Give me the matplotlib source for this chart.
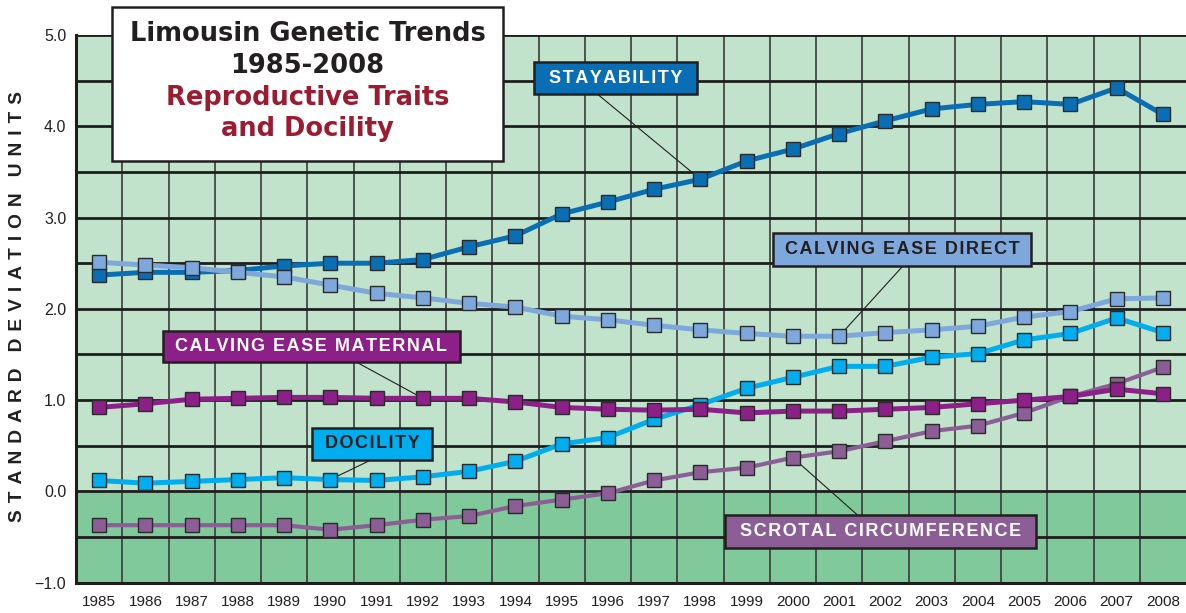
import matplotlib
matplotlib.use('Agg')

import matplotlib.pyplot as plt
from matplotlib import font_manager
from matplotlib.patches import Rectangle


#------------------------------------------------------------------------------
# data

years = list(range(1985, 2009))

stayability = [2.37, 2.40, 2.40, 2.42, 2.47, 2.50, 2.50, 2.54, 2.68, 2.80,
               3.04, 3.17, 3.31, 3.42, 3.62, 3.75, 3.92, 4.06, 4.19, 4.24,
               4.27, 4.24, 4.42, 4.13]

calving_ease_direct = [2.51, 2.48, 2.45, 2.40, 2.35, 2.26, 2.17, 2.12, 2.06,
                       2.02, 1.92, 1.88, 1.82, 1.77, 1.73, 1.70, 1.70, 1.74,
                       1.77, 1.81, 1.91, 1.97, 2.11, 2.12]

calving_ease_maternal = [0.92, 0.96, 1.01, 1.02, 1.03, 1.03, 1.02, 1.02, 1.02,
                         0.98, 0.92, 0.90, 0.89, 0.90, 0.86, 0.88, 0.88, 0.90,
                         0.92, 0.96, 1.00, 1.04, 1.12, 1.07]

docility = [0.12, 0.09, 0.11, 0.13, 0.15, 0.13, 0.12, 0.16, 0.22, 0.33, 0.52,
            0.59, 0.79, 0.95, 1.13, 1.25, 1.37, 1.37, 1.47, 1.51, 1.66, 1.73,
            1.90, 1.74]

scrotal_circumference = [-0.37, -0.37, -0.37, -0.37, -0.37, -0.42, -0.37,
                         -0.31, -0.27, -0.16, -0.09, -0.02, 0.12, 0.21, 0.26,
                         0.37, 0.44, 0.55, 0.66, 0.72, 0.86, 1.04, 1.18, 1.36]

y_ticks = [-1.0, 0.0, 1.0, 2.0, 3.0, 4.0, 5.0]
y_tick_labels = ['\u22121.0', '0.0', '1.0', '2.0', '3.0', '4.0', '5.0']

title_lines = ['Limousin Genetic Trends', '1985-2008',
               'Reproductive Traits', 'and Docility']

y_label = 'STANDARD DEVIATION UNITS'


def spaced(s, sep='\u200a'):
    return sep.join(s)


def main():

    names = {f.name for f in font_manager.fontManager.ttflist}
    if 'Liberation Sans Narrow' in names:
        tick_font, tick_size = 'Liberation Sans Narrow', 12
    else:
        tick_font, tick_size = 'Liberation Sans', 11

    plt.rcParams['font.family'] = ['Liberation Sans', 'DejaVu Sans']

    fig = plt.figure(figsize=(11.86, 6.13), dpi=100)
    ax = fig.add_axes([76 / 1186, 1 - 582.7 / 613, 1 - 76 / 1186,
                       547.7 / 613])

    ax.set_xlim(years[0] - 0.5, years[-1] + 0.5)
    ax.set_ylim(-1.0, 5.0)

    #--------------------------------------------------------------------------
    # background and grid

    ax.axhspan(0.0, 5.0, color='#c1e3cb', zorder=0, lw=0)
    ax.axhspan(-1.0, 0.0, color='#80c99b', zorder=0, lw=0)

    for i in range(len(years) - 1):
        ax.axvline(years[i] + 0.5, color='#3a3a3a', lw=1.2, zorder=1)

    for k in range(-1, 11):
        ax.axhline(k * 0.5, color='#1e1e1e', lw=2.0, zorder=1.5)

    for side in ['top', 'right']:
        ax.spines[side].set_visible(False)
    for side in ['left', 'bottom']:
        ax.spines[side].set_linewidth(2.2)
        ax.spines[side].set_color('#1e1e1e')
        ax.spines[side].set_zorder(9)

    ax.set_xticks(years)
    ax.set_xticklabels([str(y) for y in years], family=tick_font,
                       fontsize=tick_size, color='#231f20')
    ax.set_yticks(y_ticks)
    ax.set_yticklabels(y_tick_labels, fontsize=11.5, color='#231f20')
    ax.tick_params(axis='x', length=0, pad=9)
    ax.tick_params(axis='y', length=0, pad=7)

    ylab = '   '.join(spaced(w, ' \u200a') for w in y_label.split())
    fig.text(18 / 1186, 1 - 306 / 613, ylab, rotation=90, ha='center',
             va='center', fontsize=13.8, fontweight='bold', color='#231f20')

    #--------------------------------------------------------------------------
    # series, bottom to top

    series = [
        (scrotal_circumference, '#8b5f96', 3.0, 3),
        (docility,              '#00adee', 3.6, 4),
        (calving_ease_maternal, '#8c1f88', 3.6, 5),
        (stayability,           '#0a6eb5', 3.6, 6),
        (calving_ease_direct,   '#7ea8db', 3.6, 7),
    ]

    for vals, col, lw, z in series:
        ax.plot(years, vals, color=col, lw=lw, marker='s', ms=10.5,
                mfc=col, mec='#2a2a2a', mew=1.0, zorder=z,
                solid_joinstyle='round')

    #--------------------------------------------------------------------------
    # labelled boxes with leader lines

    labels = [
        # text, data, point idx, box x0, x1, y0, y1, leader start, fill, text col
        ('STAYABILITY', stayability, years.index(1998),
         1994.40, 1997.93, 4.35, 4.70, (1995.78, 4.35), '#0a6eb5', 'white'),
        ('CALVING EASE DIRECT', calving_ease_direct, years.index(2001),
         1999.57, 2005.15, 2.47, 2.83, (2002.38, 2.47), '#7ea8db', '#231f20'),
        ('CALVING EASE MATERNAL', calving_ease_maternal, years.index(1992),
         1986.38, 1992.80, 1.42, 1.76, (1990.55, 1.42), '#8c1f88', 'white'),
        ('DOCILITY', docility, years.index(1990),
         1989.60, 1992.20, 0.34, 0.70, (1990.86, 0.34), '#00adee', '#231f20'),
        ('SCROTAL CIRCUMFERENCE', scrotal_circumference, years.index(2000),
         1998.53, 2005.26, -0.62, -0.26, (2001.40, -0.26), '#8b5f96', 'white'),
    ]

    for text, vals, idx, x0, x1, y0, y1, start, fill, tcol in labels:
        ax.plot([start[0], years[idx]], [start[1], vals[idx]],
                color='#231f20', lw=0.8, zorder=2)
        ax.add_patch(Rectangle((x0, y0), x1 - x0, y1 - y0, facecolor=fill,
                               edgecolor='#231f20', lw=1.8, zorder=8))
        ax.text((x0 + x1) / 2, (y0 + y1) / 2, spaced(text), ha='center',
                va='center', fontsize=13, fontweight='bold', color=tcol,
                zorder=9)

    #--------------------------------------------------------------------------
    # title box

    fig.patches.append(Rectangle((112 / 1186, 1 - 161 / 613), 391 / 1186,
                                 154 / 613, transform=fig.transFigure,
                                 facecolor='white', edgecolor='#231f20',
                                 lw=1.8, zorder=5))

    title_y = [34, 66, 98, 129]
    title_col = ['#231f20', '#231f20', '#9b1b30', '#9b1b30']

    for line, y, c in zip(title_lines, title_y, title_col):
        fig.text(307.5 / 1186, 1 - y / 613, line, ha='center', va='center',
                 family='DejaVu Sans', fontsize=18.5, fontweight='bold',
                 color=c, zorder=6)

    fig.savefig('out.png', dpi=100)


if __name__ == "__main__":
    main()
